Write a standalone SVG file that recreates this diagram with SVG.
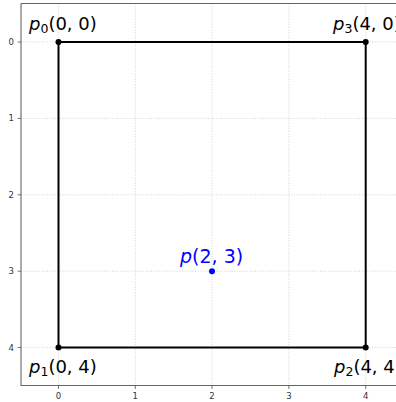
<svg xmlns="http://www.w3.org/2000/svg" width="396" height="402" viewBox="0 0 396 402">
<style>
.grid{stroke:#c8c8c8;stroke-width:0.8;stroke-dasharray:1,1.6;fill:none}
.spine{stroke:#666;stroke-width:1.1;fill:none}
.tick{stroke:#555;stroke-width:0.8}
.tl{font-family:"DejaVu Sans",sans-serif;font-size:8.5px;fill:#333}
.lbl{font-family:"DejaVu Sans",sans-serif;font-size:18px;fill:#000}
.sub{font-size:12.5px}
.edge{stroke:#000;stroke-width:2;fill:none}
</style>
<rect x="0" y="0" width="396" height="402" fill="#fff"/>
<g id="grid">
<line class="grid" x1="58.5" y1="3.5" x2="58.5" y2="385.5"/>
<line class="grid" x1="135.3" y1="3.5" x2="135.3" y2="385.5"/>
<line class="grid" x1="212" y1="3.5" x2="212" y2="385.5"/>
<line class="grid" x1="288.9" y1="3.5" x2="288.9" y2="385.5"/>
<line class="grid" x1="365.7" y1="3.5" x2="365.7" y2="385.5"/>
<line class="grid" x1="21" y1="42" x2="396" y2="42"/>
<line class="grid" x1="21" y1="118.4" x2="396" y2="118.4"/>
<line class="grid" x1="21" y1="194.8" x2="396" y2="194.8"/>
<line class="grid" x1="21" y1="271.2" x2="396" y2="271.2"/>
<line class="grid" x1="21" y1="347.5" x2="396" y2="347.5"/>
</g>
<g id="axes">
<path class="spine" d="M21,3.5 H396 M21,3.5 V385.5 H396"/>
<g class="tick">
<line x1="17.5" y1="42" x2="21" y2="42"/>
<line x1="17.5" y1="118.4" x2="21" y2="118.4"/>
<line x1="17.5" y1="194.8" x2="21" y2="194.8"/>
<line x1="17.5" y1="271.2" x2="21" y2="271.2"/>
<line x1="17.5" y1="347.5" x2="21" y2="347.5"/>
<line x1="58.5" y1="385.5" x2="58.5" y2="389"/>
<line x1="135.3" y1="385.5" x2="135.3" y2="389"/>
<line x1="212" y1="385.5" x2="212" y2="389"/>
<line x1="288.9" y1="385.5" x2="288.9" y2="389"/>
<line x1="365.7" y1="385.5" x2="365.7" y2="389"/>
</g>
<g class="tl" text-anchor="end">
<text x="14" y="45">0</text>
<text x="14" y="121.4">1</text>
<text x="14" y="197.8">2</text>
<text x="14" y="274.2">3</text>
<text x="14" y="350.5">4</text>
</g>
<g class="tl" text-anchor="middle">
<text x="58.5" y="399">0</text>
<text x="135.3" y="399">1</text>
<text x="212" y="399">2</text>
<text x="288.9" y="399">3</text>
<text x="365.7" y="399">4</text>
</g>
</g>
<g id="connectors">
<path class="edge" d="M58.5,42 H365.7 V347.5 H58.5 Z"/>
</g>
<g id="p0">
<circle cx="58.5" cy="42" r="3" fill="#000"/>
<text class="lbl" x="29" y="30"><tspan font-style="italic">p</tspan><tspan class="sub" dy="3">0</tspan><tspan dy="-3">(0, 0)</tspan></text>
</g>
<g id="p3">
<circle cx="365.7" cy="42" r="3" fill="#000"/>
<text class="lbl" x="333" y="30"><tspan font-style="italic">p</tspan><tspan class="sub" dy="3">3</tspan><tspan dy="-3">(4, 0)</tspan></text>
</g>
<g id="p1">
<circle cx="58.5" cy="347.5" r="3" fill="#000"/>
<text class="lbl" x="29" y="373"><tspan font-style="italic">p</tspan><tspan class="sub" dy="3">1</tspan><tspan dy="-3">(0, 4)</tspan></text>
</g>
<g id="p2">
<circle cx="365.7" cy="347.5" r="3" fill="#000"/>
<text class="lbl" x="334" y="373"><tspan font-style="italic">p</tspan><tspan class="sub" dy="3">2</tspan><tspan dy="-3">(4, 4)</tspan></text>
</g>
<g id="p">
<circle cx="212" cy="271.2" r="3" fill="#0000ff"/>
<text class="lbl" x="180" y="263" fill="#0000ff" style="fill:#0000ff;font-size:19px"><tspan font-style="italic">p</tspan>(2, 3)</text>
</g>
</svg>
